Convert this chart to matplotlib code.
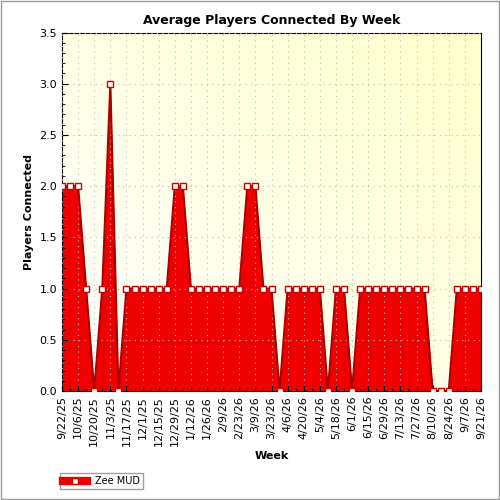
import matplotlib
matplotlib.use("Agg")
import matplotlib.pyplot as plt
import numpy as np
import pandas as pd

weeks = pd.date_range("2025-09-22", periods=53, freq="7D")
values = [2,2,2,1,0,1,3,0,1,1,1,1,1,1,2,2,1,1,1,1,1,1,1,2,2,1,1,0,
          1,1,1,1,1,0,1,1,0,1,1,1,1,1,1,1,1,1,0,0,0,1,1,1,1]
labels = [f"{d.month}/{d.day}/{d.strftime('%y')}" for d in weeks]
series_name = "Zee MUD"

fig = plt.figure(figsize=(5, 5), dpi=100)
fig.patch.set_facecolor("white")
ax = fig.add_axes([0.124, 0.218, 0.838, 0.717])
x = np.arange(len(values))
# gradient background
grad = np.linspace(0, 1, 256)
gx, gy = np.meshgrid(grad, grad)
g = (gx + gy) / 2
c1 = np.array([1.0, 1.0, 1.0]); c2 = np.array([1.0, 1.0, 0.80])
img = c1[None, None, :] * (1 - g[..., None]) + c2[None, None, :] * g[..., None]
ax.imshow(img, extent=[0, 52, 0, 3.5], origin="lower", aspect="auto", zorder=0)
ax.fill_between(x, values, 0, color="#EE0000", zorder=2, lw=0)
ax.plot(x, values, color="#AA0000", lw=1.5, zorder=3)
ax.plot(x, values, ls="none", marker="s", ms=5, mfc="white", mec="#CC0000", mew=1, zorder=4)
ax.set_xlim(0, 52)
ax.set_ylim(0, 3.5)
ax.set_yticks(np.arange(0, 3.51, 0.5))
ax.set_yticklabels([f"{v:.1f}" for v in np.arange(0, 3.51, 0.5)], fontsize=8)
ax.set_yticks(np.arange(0, 3.51, 0.1), minor=True)
ax.set_xticks(x[::2])
ax.set_xticklabels(labels[::2], rotation=90, fontsize=8)
ax.set_xticks(x, minor=True)
ax.grid(True, which="major", color="#bbbbbb", ls=(0, (1, 4)), lw=0.8, zorder=1)
ax.set_axisbelow(False)
for s in ax.spines.values():
    s.set_color("black")
ax.tick_params(which="both", direction="in", length=4)
ax.tick_params(which="minor", length=2)
ax.set_title("Average Players Connected By Week", fontsize=9, fontweight="bold", pad=6)
ax.set_xlabel("Week", fontsize=8, fontweight="bold")
ax.set_ylabel("Players Connected", fontsize=8, fontweight="bold")
leg = fig.legend([plt.Line2D([], [], color="#EE0000", lw=6, marker="s", mfc="white", mec="#CC0000", ms=5)],
                 [series_name], loc="lower left", bbox_to_anchor=(0.11, 0.012), fontsize=7,
                 fancybox=False, edgecolor="#888888", handlelength=2.5, borderpad=0.3)
fig.add_artist(plt.Rectangle((0.002, 0.002), 0.996, 0.996, transform=fig.transFigure,
                             fill=False, edgecolor="#999999", lw=1))
fig.savefig("out.png", dpi=100)
